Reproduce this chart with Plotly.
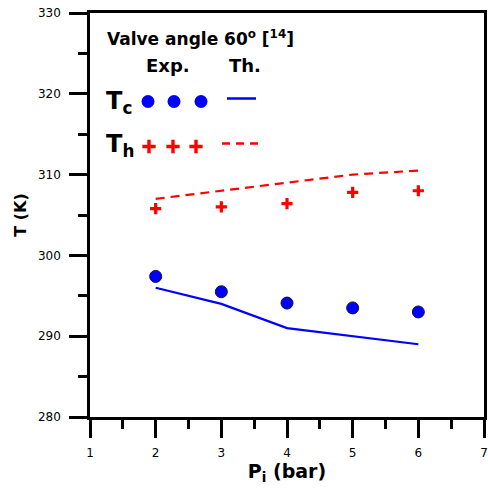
import plotly.graph_objects as go

# ---- data ----
pressure_bar = [2, 3, 4, 5, 6]
tc_exp = [297.4, 295.5, 294.1, 293.5, 293.0]
tc_th = [296.0, 294.0, 291.0, 290.0, 289.0]
th_exp = [305.8, 306.0, 306.4, 307.8, 308.0]
th_th = [307.0, 308.0, 309.0, 310.0, 310.5]

BLUE = "#0000ff"
RED = "#ff0000"
FONT = "DejaVu Sans"

W, H = 488, 490
ML, MR, MT, MB = 90, 4, 13, 73

fig = go.Figure()

# data traces
fig.add_trace(go.Scatter(x=pressure_bar, y=th_th, mode="lines",
                         line=dict(color=RED, width=2.2, dash="9px,6px"), showlegend=False))
fig.add_trace(go.Scatter(x=pressure_bar, y=tc_th, mode="lines",
                         line=dict(color=BLUE, width=2.2), showlegend=False))
fig.add_trace(go.Scatter(x=pressure_bar, y=th_exp, mode="markers",
                         marker=dict(symbol="cross-thin", size=8, line=dict(color=RED, width=3.2)),
                         showlegend=False))
fig.add_trace(go.Scatter(x=pressure_bar, y=tc_exp, mode="markers",
                         marker=dict(symbol="circle", size=12, color=BLUE, line=dict(color="#111133", width=1)),
                         showlegend=False))

# ---- hand-drawn legend on an overlay axis in pixel units ----
leg_x_circles = [148, 174, 201]
leg_x_plus = [149, 173, 196]
fig.add_trace(go.Scatter(x=leg_x_circles, y=[101.5] * 3, xaxis="x2", yaxis="y2", mode="markers",
                         marker=dict(symbol="circle", size=13, color=BLUE, line=dict(width=0)),
                         showlegend=False, hoverinfo="skip"))
fig.add_trace(go.Scatter(x=leg_x_plus, y=[146.5] * 3, xaxis="x2", yaxis="y2", mode="markers",
                         marker=dict(symbol="cross-thin", size=9.5, line=dict(color=RED, width=3.4)),
                         showlegend=False, hoverinfo="skip"))
fig.add_trace(go.Scatter(x=[227, 256], y=[98.5, 98.5], xaxis="x2", yaxis="y2", mode="lines",
                         line=dict(color=BLUE, width=2.5), showlegend=False, hoverinfo="skip"))
fig.add_trace(go.Scatter(x=[222, 263], y=[143.5, 143.5], xaxis="x2", yaxis="y2", mode="lines",
                         line=dict(color=RED, width=2.5, dash="8px,6px"), showlegend=False, hoverinfo="skip"))

annotations = [
    dict(text="Valve angle 60<sup>o</sup> [<sup>14</sup>]", x=105, y=38, size=17),
    dict(text="Exp.", x=144, y=65, size=18),
    dict(text="Th.", x=227, y=65, size=18),
    dict(text="T<sub>c</sub>", x=104, y=102, size=24),
    dict(text="T<sub>h</sub>", x=104, y=145, size=24),
]
for a in annotations:
    fig.add_annotation(text="<b>" + a["text"] + "</b>", x=a["x"], y=a["y"], xref="x2", yref="y2",
                       xanchor="left", yanchor="middle", showarrow=False,
                       font=dict(family=FONT, size=a["size"], color="black"))

axis_common = dict(
    showline=True, linecolor="black", linewidth=2.5, mirror=True,
    ticks="outside", ticklen=18, tickwidth=2.5, tickcolor="black",
    showgrid=False, zeroline=False, automargin=False,
    tickfont=dict(family=FONT, size=12, color="black"),
)

fig.update_layout(
    width=W, height=H,
    margin=dict(l=ML, r=MR, t=MT, b=MB),
    paper_bgcolor="white", plot_bgcolor="white",
    xaxis=dict(range=[1, 7], dtick=1, tick0=1,
               minor=dict(dtick=0.5, ticks="outside", ticklen=9, tickwidth=2.5, tickcolor="black"),
               ticklabelstandoff=5,
               title=dict(text="<b>P<sub>i</sub> (bar)</b>", font=dict(family=FONT, size=19, color="black"),
                          standoff=2),
               **axis_common),
    yaxis=dict(range=[280, 330], dtick=10, tick0=280,
               minor=dict(dtick=5, ticks="outside", ticklen=9, tickwidth=2.5, tickcolor="black"),
               ticklabelstandoff=6,
               title=dict(text="<b>T (K)</b>", font=dict(family=FONT, size=16, color="black"),
                          standoff=8),
               **axis_common),
    xaxis2=dict(overlaying="x", range=[90, 484], visible=False, fixedrange=True),
    yaxis2=dict(overlaying="y", range=[417, 13], visible=False, fixedrange=True),
)

# remove the browser's default 8px body margin so the figure sits at the page origin
fig.write_html("out.html", config={"displayModeBar": False},
               post_script="document.body.style.margin='0px';")
